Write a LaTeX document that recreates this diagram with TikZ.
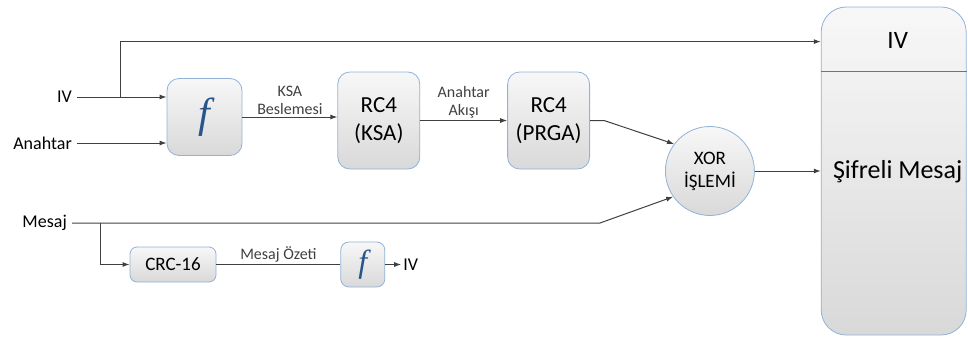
\documentclass[tikz,border=0pt]{standalone}
\usepackage{fontspec}
\setmainfont{Carlito}
\newfontfamily\funcfont{Liberation Serif}
\usepackage{tikz}
\usetikzlibrary{arrows.meta, positioning, calc}
\definecolor{boxblue}{RGB}{146,178,216}
\definecolor{fblue}{RGB}{40,84,140}
\definecolor{linegray}{RGB}{64,64,64}

\begin{document}
\begin{tikzpicture}[
        >={Latex[length=7pt,width=5pt]},
        procbox/.style={rectangle, draw=boxblue, line width=0.8pt, rounded corners=12pt,
                top color=gray!6, bottom color=gray!30, align=center, inner sep=0pt,
                font=\fontsize{23}{28}\selectfont},
        funcbox/.style={procbox, font=\funcfont\itshape\fontsize{42}{42}\selectfont\color{fblue}},
        xorcircle/.style={circle, draw=boxblue, line width=0.8pt, minimum size=89pt,
                top color=gray!6, bottom color=gray!30, align=center, inner sep=0pt,
                font=\fontsize{19}{23}\selectfont},
        inlab/.style={anchor=east, inner sep=0pt, inner xsep=5pt, font=\fontsize{18}{22}\selectfont},
        arrlab/.style={align=center, inner sep=2pt, font=\fontsize{16}{18}\selectfont},
        arrow/.style={->, line width=1pt, linegray},
        line/.style={-, line width=1pt, linegray},
    ]
        \useasboundingbox (0,0) rectangle (968pt,-343pt);

        % === INPUTS ===
        \node[inlab] (ivIn) at (77pt,-97pt) {IV};
        \node[inlab] (keyIn) at (77pt,-143pt) {Anahtar};
        \node[inlab] (msgIn) at (72pt,-223pt) {Mesaj};

        % === RC4 CHAIN ===
        \node[funcbox, minimum width=75pt, minimum height=77pt] (fA) at (204.5pt,-117pt) {f};
        \node[procbox, minimum width=82pt, minimum height=97pt, right=95pt of fA, yshift=-3.5pt] (ksa) {RC4\\(KSA)};
        \node[procbox, minimum width=82pt, minimum height=97pt, right=87pt of ksa] (prga) {RC4\\(PRGA)};
        \node[xorcircle, right=75pt of prga, yshift=-50.5pt] (xor) {XOR\\İŞLEMİ};

        % === OUTPUT PACKET ===
        \node[procbox, rounded corners=25pt, minimum width=145pt, minimum height=328pt,
            right=66pt of xor] (out) {};
        \draw[line, line width=0.8pt, black!55] ($(out.north west)+(0,-65pt)$) -- ($(out.north east)+(0,-65pt)$);
        \node[font=\fontsize{25}{30}\selectfont] (outIv) at ($(out.north)+(4pt,-34pt)$) {IV};
        \node[font=\fontsize{26}{30}\selectfont] (outMsg) at ($(out.center)+(4pt,-1pt)$) {Şifreli Mesaj};

        % === CRC BRANCH ===
        \node[procbox, rounded corners=7pt, minimum width=86pt, minimum height=35pt,
            font=\fontsize{19}{22}\selectfont] (crc) at (173pt,-264.5pt) {CRC-16};
        \node[funcbox, rounded corners=8pt, minimum width=44pt, minimum height=45pt,
            font=\funcfont\itshape\fontsize{32}{32}\selectfont\color{fblue}, right=124pt of crc] (fB) {f};
        \node[inlab, anchor=west, inner xsep=2pt, right=16pt of fB] (ivOut) {IV};

        % Connections
        \coordinate (ivsplit) at ($(ivIn.east)+(43pt,0)$);
        \coordinate (msgsplit) at ($(msgIn.east)+(28pt,0)$);
        \draw[arrow] (ivIn.east) -- (ivIn.east -| fA.west);
        \draw[arrow] (ivsplit) |- ($(out.north west)+(0,-35pt)$);
        \draw[arrow] (keyIn.east) -- (keyIn.east -| fA.west);
        \draw[arrow] (fA.east) -- node[arrlab, above] {KSA\\Beslemesi} (fA.east -| ksa.west);
        \draw[arrow] (ksa) -- node[arrlab, above] {Anahtar\\Akışı} (prga);
        \draw[arrow] (prga.east) -- ++(14pt,0) -- (xor.143);
        \draw[arrow] (msgIn.east) -- ([xshift=10pt]msgIn.east -| prga.east) -- (xor.215);
        \draw[arrow] (xor) -- (xor -| out.west);
        \draw[arrow] (msgsplit) |- (crc.west);
        \draw[line] (crc) -- node[arrlab, above] {Mesaj Özeti} (fB);
        \draw[arrow] (fB) -- (ivOut);
    \end{tikzpicture}
\end{document}
